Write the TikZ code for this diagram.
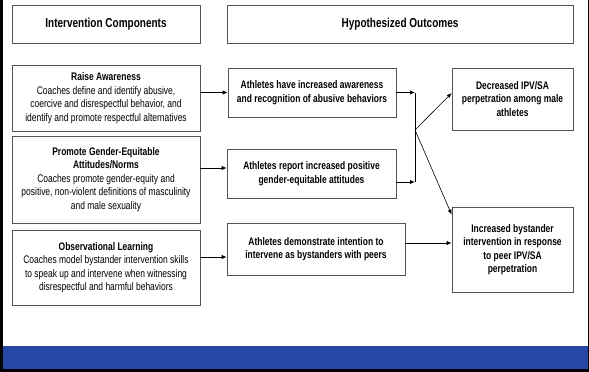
\documentclass[tikz,border=0pt]{standalone}
\usepackage{fontspec}
\setmainfont{Liberation Sans}[FakeStretch=0.77]
\usetikzlibrary{arrows.meta, positioning}
\definecolor{slideblue}{HTML}{2747A5}
\definecolor{boxgray}{HTML}{555555}

\begin{document}
\begin{tikzpicture}[x=1pt, y=-1pt,
        box/.style={draw=boxgray, line width=0.7pt, align=center, inner sep=0pt, font=\fontsize{11}{13.5}\selectfont},
        head/.style={box, font=\fontsize{13}{15}\selectfont\bfseries},
        mid/.style={box, font=\fontsize{11}{13.5}\selectfont\bfseries},
        arr/.style={-{Latex[length=5pt, width=4.5pt]}, line width=1pt},
        thinarr/.style={-{Latex[length=5pt, width=4pt]}, line width=0.6pt}]
        \useasboundingbox (0,0) rectangle (589,372);
        \fill[slideblue] (3,346) rectangle (587.5,369);
        \fill[black] (0,0) rectangle (3,372);
        \fill[black] (587.5,0) rectangle (589,372);
        \fill[black] (0,369) rectangle (589,372);
            \node[head, minimum width=188pt, minimum height=38pt] (comp) at (106,24) {Intervention Components};
            \node[head, minimum width=346pt, minimum height=38pt] (outc) at (400,24) {Hypothesized Outcomes};
            \node[box, minimum width=188pt, minimum height=66pt] (raise) at (106,98) {\textbf{Raise Awareness}\\Coaches define and identify abusive,\\coercive and disrespectful behavior, and\\identify and promote respectful alternatives};
            \node[box, minimum width=188pt, minimum height=87pt] (promote) at (106,179.5) {\textbf{Promote Gender-Equitable}\\\textbf{Attitudes/Norms}\\Coaches promote gender-equity and\\positive, non-violent definitions of masculinity\\and male sexuality};
            \node[box, minimum width=188pt, minimum height=75pt] (observ) at (106,267.5) {\textbf{Observational Learning}\\Coaches model bystander intervention skills\\to speak up and intervene when witnessing\\disrespectful and harmful behaviors};
            \node[mid, minimum width=168pt, minimum height=49pt] (aware) at (312,92.5) {Athletes have increased awareness\\and recognition of abusive behaviors};
            \node[mid, minimum width=169pt, minimum height=49pt] (attit) at (311.5,173.5) {Athletes report increased positive\\gender-equitable attitudes};
            \node[mid, minimum width=178pt, minimum height=52pt] (demon) at (316,249) {Athletes demonstrate intention to\\intervene as bystanders with peers};
            \node[mid, minimum width=121pt, minimum height=62pt] (decr) at (512.5,99) {Decreased IPV/SA\\perpetration among male\\athletes};
            \node[mid, minimum width=121pt, minimum height=85pt] (incr) at (512.5,249.5) {Increased bystander\\intervention in response\\to peer IPV/SA\\perpetration};
            \coordinate (join1) at (415,92.5);
            \coordinate (join2) at (415,182);
            \coordinate (split) at (415,130);
            \draw[arr] (raise.east |- aware.west) -- (aware.west);
            \draw[arr] ([yshift=11.5pt]promote.east) -- ([yshift=11.5pt]promote.east -| attit.west);
            \draw[arr] ([yshift=10.5pt]observ.east) -- ([yshift=10.5pt]observ.east -| demon.west);
            \draw[arr] (aware.east) -- (join1);
            \draw[arr] (attit.east |- join2) -- (join2);
            \draw[line width=0.6pt] (join1) -- (join2);
            \draw[thinarr] (split) -- ([yshift=6pt]decr.west);
            \draw[thinarr] (split) -- ([yshift=-8pt]incr.north west);
            \draw[arr] ([yshift=6pt]demon.east) -- ([yshift=6pt]demon.east -| incr.west);
\end{tikzpicture}
\end{document}
